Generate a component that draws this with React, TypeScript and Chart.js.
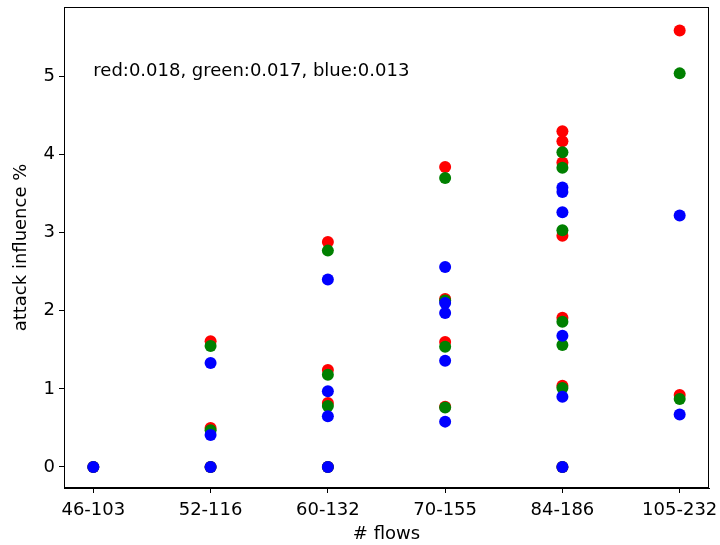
import React, { useEffect, useRef } from "react";
import { Chart, registerables } from "chart.js";

Chart.register(...registerables);

const categories = ["46-103", "52-116", "60-132", "70-155", "84-186", "105-232"];
const yTicks = [0, 1, 2, 3, 4, 5];

const redCat = [0, 1, 1, 1, 2, 2, 2, 2, 3, 3, 3, 3, 4, 4, 4, 4, 4, 4, 4, 5, 5];
const redVals = [0, 1.61, 0.5, 0, 2.88, 1.24, 0.82, 0, 3.84, 2.15, 1.6, 0.77, 4.3, 4.17, 3.9, 2.96, 1.91, 1.04, 0, 5.59, 0.92];

const greenCat = [0, 1, 1, 1, 2, 2, 2, 2, 3, 3, 3, 3, 4, 4, 4, 4, 4, 4, 4, 5, 5];
const greenVals = [0, 1.55, 0.47, 0, 2.77, 1.18, 0.78, 0, 3.7, 2.13, 1.54, 0.76, 4.03, 3.83, 3.03, 1.86, 1.56, 1.01, 0, 5.04, 0.87];

const blueCat = [0, 1, 1, 1, 2, 2, 2, 2, 3, 3, 3, 3, 3, 4, 4, 4, 4, 4, 4, 5, 5];
const blueVals = [0, 1.33, 0.41, 0, 2.4, 0.97, 0.65, 0, 2.56, 2.1, 1.97, 1.36, 0.58, 3.58, 3.52, 3.26, 1.68, 0.9, 0, 3.22, 0.67];

const annotation = "red:0.018, green:0.017, blue:0.013";
const annotationAt = { x: 0, y: 5 };

const FONT = "'DejaVu Sans', sans-serif";
const FS = 18;

function pts(cats: number[], vals: number[]) {
  return cats.map((c, i) => ({ x: c, y: vals[i] }));
}

const framePlugin = {
  id: "frame",
  afterDraw(chart: any) {
    const { ctx, chartArea } = chart;
    ctx.save();
    ctx.strokeStyle = "#000";
    ctx.lineWidth = 1;
    ctx.strokeRect(
      Math.round(chartArea.left) + 0.5,
      Math.round(chartArea.top) + 0.5,
      Math.round(chartArea.right - chartArea.left) - 1,
      Math.round(chartArea.bottom - chartArea.top) - 1
    );
    const xs = chart.scales.x;
    const ys = chart.scales.y;
    ctx.fillStyle = "#000";
    ctx.font = `${FS}px ${FONT}`;
    ctx.textAlign = "left";
    ctx.textBaseline = "alphabetic";
    ctx.fillText(annotation, xs.getPixelForValue(annotationAt.x), ys.getPixelForValue(annotationAt.y));
    ctx.restore();
  },
};

export default function App() {
  const ref = useRef<HTMLCanvasElement | null>(null);
  useEffect(() => {
    if (!ref.current) return;
    const chart = new Chart(ref.current, {
      type: "scatter",
      data: {
        datasets: [
          { label: "red", data: pts(redCat, redVals), backgroundColor: "#ff0000", borderWidth: 0, pointRadius: 6, order: 3 },
          { label: "green", data: pts(greenCat, greenVals), backgroundColor: "#008000", borderWidth: 0, pointRadius: 6, order: 2 },
          { label: "blue", data: pts(blueCat, blueVals), backgroundColor: "#0000ff", borderWidth: 0, pointRadius: 6, order: 1 },
        ],
      },
      options: {
        animation: false,
        responsive: false,
        layout: { padding: { left: 0, top: 7, right: 11, bottom: 0 } },
        plugins: { legend: { display: false }, tooltip: { enabled: false } },
        scales: {
          x: {
            type: "linear",
            min: -0.25,
            max: 5.25,
            afterBuildTicks: (s: any) => {
              s.ticks = categories.map((_, i) => ({ value: i }));
            },
            afterFit: (s: any) => {
              s.height = 57;
              s.paddingLeft = 0;
              s.paddingRight = 0;
            },
            ticks: {
              color: "#000",
              font: { family: FONT, size: FS },
              padding: 7,
              maxRotation: 0,
              autoSkip: false,
              callback: (v: any) => categories[v as number] ?? "",
            },
            grid: { display: true, drawOnChartArea: false, drawTicks: true, tickLength: 5, color: "#000" },
            border: { display: true, color: "#000" },
            title: { display: true, text: "# flows", color: "#000", font: { family: FONT, size: FS }, padding: { top: 0, bottom: 0 } },
          },
          y: {
            type: "linear",
            min: -0.27,
            max: 5.89,
            afterBuildTicks: (s: any) => {
              s.ticks = yTicks.map((v) => ({ value: v }));
            },
            afterFit: (s: any) => {
              s.width = 64;
              s.paddingTop = 0;
              s.paddingBottom = 0;
            },
            ticks: {
              color: "#000",
              font: { family: FONT, size: FS },
              padding: 4,
              callback: (v: any) => String(v),
            },
            grid: { display: true, drawOnChartArea: false, drawTicks: true, tickLength: 5, color: "#000" },
            border: { display: true, color: "#000" },
            title: { display: true, text: "attack influence %", color: "#000", font: { family: FONT, size: FS }, padding: { top: 11, bottom: 0 } },
          },
        },
      },
      plugins: [framePlugin],
    });
    return () => chart.destroy();
  }, []);
  return (
    <div style={{ position: "fixed", left: 0, top: 0, width: 720, height: 545, background: "#fff" }}>
      <canvas ref={ref} width={720} height={545} style={{ width: 720, height: 545 }} />
    </div>
  );
}
